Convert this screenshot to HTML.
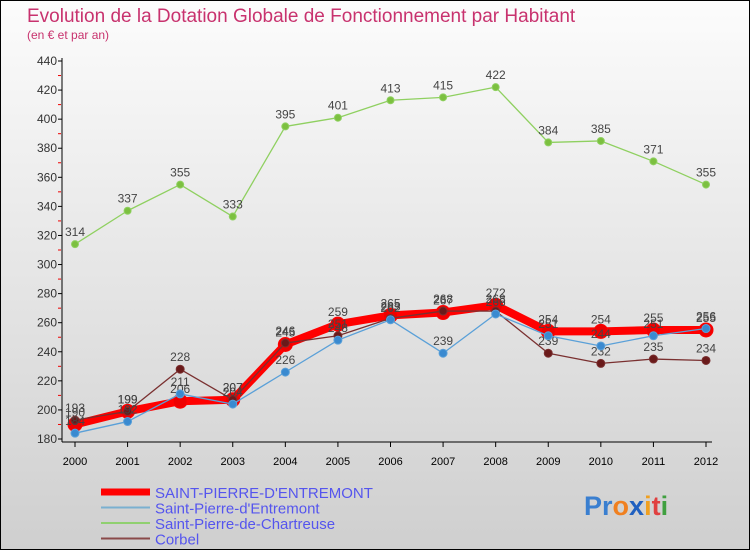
<!DOCTYPE html>
<html><head><meta charset="utf-8"><style>
body{margin:0;width:750px;height:550px;overflow:hidden}
svg{display:block;font-family:"Liberation Sans",sans-serif}
</style></head><body>
<svg width="750" height="550">
<defs><linearGradient id="bg" x1="0" y1="0" x2="0" y2="1"><stop offset="0" stop-color="#fcfcfc"/><stop offset="1" stop-color="#cfcfcf"/></linearGradient></defs>
<rect x="0.5" y="0.5" width="749" height="549" fill="url(#bg)" stroke="#000"/>
<text x="27" y="22" font-size="19" fill="#c8326e">Evolution de la Dotation Globale de Fonctionnement par Habitant</text>
<text x="27" y="39" font-size="12" fill="#c8326e">(en € et par an)</text>
<g id="axes"></g>
<g id="series"></g>
<g id="legend"></g>
<text x="584" y="515" font-size="27" font-weight="bold"><tspan fill="#3a7fd0">Pr</tspan><tspan fill="#f08020">o</tspan><tspan fill="#2060c0">x</tspan><tspan fill="#f0a020">i</tspan><tspan fill="#e04040">t</tspan><tspan fill="#40a040">i</tspan></text>
</svg>
<script>
const years=["2000","2001","2002","2003","2004","2005","2006","2007","2008","2009","2010","2011","2012"];
const yTicks=[180,200,220,240,260,280,300,320,340,360,380,400,420,440];
const mainVals=[190,199,206,207,245,259,265,267,272,254,254,255,255];
const spVals=[184,192,211,204,226,248,262,239,266,251,244,251,256];
const spcVals=[314,337,355,333,395,401,413,415,422,384,385,371,355];
const corbelVals=[193,199,228,207,246,251,263,268,268,239,232,235,234];
const NS="http://www.w3.org/2000/svg";
const X=i=>75+i*(631/12);
const Y=v=>439-(v-180)*378/260;
function mk(t,a,p){const e=document.createElementNS(NS,t);for(const k in a)e.setAttribute(k,a[k]);p.appendChild(e);return e;}
const ax=document.getElementById('axes');
const yl=mk('line',{x1:62,y1:58,x2:62,y2:442,stroke:'#000'},ax);


const xl=mk('line',{x1:62,y1:442,x2:712,y2:442,stroke:'#000'},ax);


yTicks.forEach((v,k)=>{
  mk('line',{x1:58,y1:Y(v),x2:62,y2:Y(v),stroke:'#000'},ax);
  if(k<yTicks.length-1)mk('line',{x1:58,y1:Y(v+10),x2:61,y2:Y(v+10),stroke:'#e00'},ax);
  const t=mk('text',{x:57,y:Y(v)+4,'font-size':12,fill:'#333','text-anchor':'end'},ax);
  t.textContent=v;
  
  
});
years.forEach((y,i)=>{
  mk('line',{x1:X(i),y1:442,x2:X(i),y2:447,stroke:'#000'},ax);
  const t=mk('text',{x:X(i),y:465,'font-size':11,fill:'#000','text-anchor':'middle'},ax);
  t.textContent=y;
  
  
});
const sg=document.getElementById('series');
function series(vals,color,w,r,dot,name){
  const g=mk('g',{},sg);
  
  
  mk('polyline',{points:vals.map((v,i)=>X(i)+','+Y(v)).join(' '),fill:'none',stroke:color,'stroke-width':w,'stroke-linejoin':'round'},g);
  vals.forEach((v,i)=>{
    const c=mk('circle',{cx:X(i),cy:Y(v),r:r,fill:dot,stroke:color,'stroke-width':1},g);
    
    
    const t=mk('text',{x:X(i),y:Y(v)-8,'font-size':12,fill:'#444','text-anchor':'middle'},g);
    t.textContent=v;
    
    
  });
}
series(spcVals,'#8fd060',1.3,3.5,'#7cc040','series-saint-pierre-de-chartreuse');
series(mainVals,'#f00',8,7,'#e00','series-saint-pierre-d-entremont-main');
series(corbelVals,'#7a3030',1.3,4,'#6a1a1a','series-corbel');
series(spVals,'#5aa0d8',1.3,4,'#3a8ad0','series-saint-pierre-d-entremont');
const lg=document.getElementById('legend');
const items=[["SAINT-PIERRE-D'ENTREMONT",'#f00',7],["Saint-Pierre-d'Entremont",'#7ab0d0',2],["Saint-Pierre-de-Chartreuse",'#90d070',2],["Corbel",'#8a4a4a',2]];
items.forEach((it,k)=>{
  const y=492+k*15.5;
  const g=mk('g',{},lg);
  
  
  mk('line',{x1:101,y1:y,x2:150,y2:y,stroke:it[1],'stroke-width':it[2]},g);
  const t=mk('text',{x:155,y:y+6,'font-size':15,fill:'#5555ee','textLength':0},g);
  t.removeAttribute('textLength');
  t.textContent=it[0];
});
</script>
</body></html>
